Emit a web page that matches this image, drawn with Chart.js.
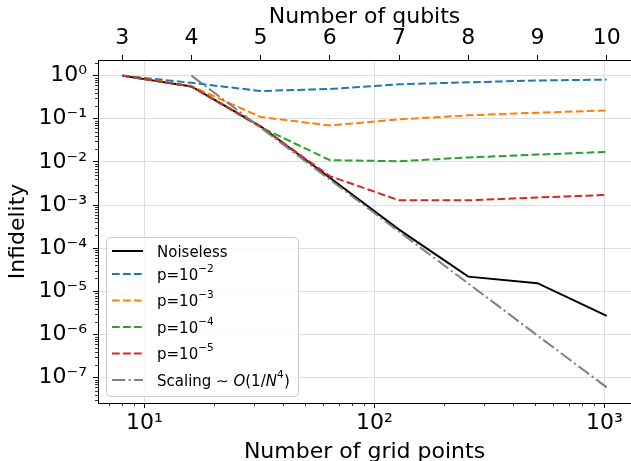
<!DOCTYPE html>
<html>
<head>
<meta charset="utf-8">
<script src="https://cdn.jsdelivr.net/npm/chart.js@4.4.1/dist/chart.umd.min.js"></script>
<style>
    html, body { margin: 0; padding: 0; background: #fff; }
    #wrap { width: 631px; height: 461px; position: relative; }
</style>
</head>
<body>
<div id="wrap"><canvas id="infidelity-chart"></canvas></div>
<script>
// Data
const gridPoints = [8, 16, 32, 64, 128, 256, 512, 1024];
const qubitLabels = ['3', '4', '5', '6', '7', '8', '9', '10'];
const noiseless = [1.0, 0.56, 0.067, 0.0043, 2.7e-4, 2.2e-5, 1.55e-5, 2.7e-6];
const noiseP2 = [1.0, 0.68, 0.44, 0.49, 0.63, 0.70, 0.77, 0.81];
const noiseP3 = [1.0, 0.57, 0.11, 0.070, 0.097, 0.12, 0.138, 0.156];
const noiseP4 = [1.0, 0.56, 0.064, 0.011, 0.0104, 0.0127, 0.0148, 0.0171];
const noiseP5 = [1.0, 0.56, 0.065, 0.0047, 0.00129, 0.00129, 0.0015, 0.00172];
const scalingPoints = [16, 32, 64, 128, 256, 512, 1024];
const scaling = [1.0, 0.0625, 0.0039, 2.44e-4, 1.53e-5, 9.5e-7, 6.0e-8];
const xMajorTicks = [10, 100, 1000];
const yMajorTicks = [1, 1e-1, 1e-2, 1e-3, 1e-4, 1e-5, 1e-6, 1e-7];

const legendLabels = [
    [{t: 'Noiseless'}],
    [{t: 'p=10'}, {t: '\u22122', sup: true}],
    [{t: 'p=10'}, {t: '\u22123', sup: true}],
    [{t: 'p=10'}, {t: '\u22124', sup: true}],
    [{t: 'p=10'}, {t: '\u22125', sup: true}],
    [{t: 'Scaling \u223C '}, {t: 'O', it: true}, {t: '(1/'}, {t: 'N', it: true}, {t: '4', sup: true}, {t: ')'}]
];

const FONT = '"DejaVu Sans", sans-serif';
Chart.defaults.color = '#000';
Chart.defaults.font.family = FONT;

const supMap = {'-': '\u207B', '0': '\u2070', '1': '\u00B9', '2': '\u00B2', '3': '\u00B3',
    '4': '\u2074', '5': '\u2075', '6': '\u2076', '7': '\u2077', '8': '\u2078', '9': '\u2079'};
const powLabel = (v) => {
    const e = Math.round(Math.log10(v));
    return '10' + String(e).split('').map(c => supMap[c]).join('');
};

const toPoints = (xs, ys) => xs.map((x, i) => ({x: x, y: ys[i]}));

const dashed = [7.7, 3.3];

const dataInfidelity = {
    datasets: [
        { label: 'Noiseless', data: toPoints(gridPoints, noiseless), borderColor: '#000000', borderWidth: 2, order: 6 },
        { label: 'p=10⁻²', data: toPoints(gridPoints, noiseP2), borderColor: '#1f77b4', borderWidth: 2, borderDash: dashed, order: 5 },
        { label: 'p=10⁻³', data: toPoints(gridPoints, noiseP3), borderColor: '#ff7f0e', borderWidth: 2, borderDash: dashed, order: 4 },
        { label: 'p=10⁻⁴', data: toPoints(gridPoints, noiseP4), borderColor: '#2ca02c', borderWidth: 2, borderDash: dashed, order: 3 },
        { label: 'p=10⁻⁵', data: toPoints(gridPoints, noiseP5), borderColor: '#d62728', borderWidth: 2, borderDash: dashed, order: 2 },
        { label: 'Scaling ~ O(1/N⁴)', data: toPoints(scalingPoints, scaling), borderColor: '#808080', borderWidth: 2, borderDash: [13.3, 3.3, 2.1, 3.3], order: 1 }
    ]
};

// small unlabeled ticks between the decades
const minorTicks = {
    id: 'minorTicks',
    afterDraw: (chart) => {
        const {ctx, chartArea, scales} = chart;
        ctx.save();
        ctx.strokeStyle = '#000';
        ctx.lineWidth = 0.8;
        ctx.beginPath();
        for (let e = -9; e <= 3; e++) {
            for (let m = 2; m <= 9; m++) {
                const v = m * Math.pow(10, e);
                if (v > scales.x.min && v < scales.x.max) {
                    const px = Math.round(scales.x.getPixelForValue(v)) + 0.5;
                    ctx.moveTo(px, chartArea.bottom);
                    ctx.lineTo(px, chartArea.bottom + 3);
                }
                if (v > scales.y.min && v < scales.y.max) {
                    const py = Math.round(scales.y.getPixelForValue(v)) + 0.5;
                    ctx.moveTo(chartArea.left, py);
                    ctx.lineTo(chartArea.left - 3, py);
                }
            }
        }
        ctx.stroke();
        ctx.restore();
    }
};

// legend box in the lower left of the plot, matplotlib style
const boxLegend = {
    id: 'boxLegend',
    afterDraw: (chart) => {
        const ctx = chart.ctx;
        ctx.save();
        ctx.fillStyle = 'rgba(255,255,255,0.8)';
        ctx.strokeStyle = '#cccccc';
        ctx.lineWidth = 1;
        ctx.beginPath();
        ctx.roundRect(106.5, 237.5, 192, 159, 4);
        ctx.fill();
        ctx.stroke();

        chart.data.datasets.forEach((ds, i) => {
            const y = 251 + (i > 0 ? 23 + (i - 1) * 26.5 : 0);
            ctx.strokeStyle = ds.borderColor;
            ctx.lineWidth = 2;
            ctx.setLineDash(ds.borderDash || []);
            ctx.beginPath();
            ctx.moveTo(112, y);
            ctx.lineTo(143, y);
            ctx.stroke();
            ctx.setLineDash([]);

            let x = 157;
            ctx.fillStyle = '#000';
            ctx.textBaseline = 'alphabetic';
            legendLabels[i].forEach(part => {
                const size = part.sup ? 10.5 : 15;
                ctx.font = (part.it ? 'italic ' : '') + size + 'px ' + FONT;
                ctx.fillText(part.t, x, part.sup ? y - 2.5 : y + 5.5);
                x += ctx.measureText(part.t).width + (part.sup ? 0.5 : 0);
            });
        });
        ctx.restore();
    }
};

const optionsInfidelity = {
    responsive: true,
    maintainAspectRatio: false,
    animation: false,
    layout: { padding: 0 },
    elements: {
        point: { radius: 0 },
        line: { tension: 0 }
    },
    scales: {
        x: {
            type: 'logarithmic',
            position: 'bottom',
            min: 6.28,
            max: 1306,
            bounds: 'data',
            afterBuildTicks: (scale) => { scale.ticks = xMajorTicks.map(v => ({value: v})); },
            afterFit: (scale) => { scale.height = 58; },
            ticks: {
                autoSkip: false,
                maxRotation: 0,
                padding: 2,
                font: { size: 22, lineHeight: 1.2 },
                callback: (value) => powLabel(value)
            },
            grid: { color: '#dedede', lineWidth: 1, tickLength: 5, tickColor: '#000' },
            border: { display: true, color: '#000', width: 1 },
            title: {
                display: true,
                text: 'Number of grid points',
                font: { size: 22, lineHeight: 0.8 },
                padding: { top: 0, bottom: 0 }
            }
        },
        xTop: {
            type: 'logarithmic',
            axis: 'x',
            position: 'top',
            min: 6.28,
            max: 1306,
            bounds: 'data',
            afterBuildTicks: (scale) => { scale.ticks = gridPoints.map(v => ({value: v})); },
            afterFit: (scale) => { scale.height = 60; },
            ticks: {
                autoSkip: false,
                maxRotation: 0,
                padding: 4,
                font: { size: 22, lineHeight: 1.2 },
                callback: (value) => qubitLabels[gridPoints.indexOf(value)]
            },
            grid: { drawOnChartArea: false, tickLength: 5, tickColor: '#000' },
            border: { display: true, color: '#000', width: 1 },
            title: {
                display: true,
                text: 'Number of qubits',
                font: { size: 22, lineHeight: 1.2 },
                padding: { top: 4, bottom: 0 }
            }
        },
        y: {
            type: 'logarithmic',
            position: 'left',
            min: 2.6e-8,
            max: 2.3,
            bounds: 'data',
            afterBuildTicks: (scale) => { scale.ticks = yMajorTicks.map(v => ({value: v})); },
            afterFit: (scale) => { scale.width = 98; },
            ticks: {
                autoSkip: false,
                padding: 6,
                font: { size: 22, lineHeight: 1.2 },
                callback: (value) => powLabel(value)
            },
            grid: { color: '#dedede', lineWidth: 1, tickLength: 5, tickColor: '#000' },
            border: { display: true, color: '#000', width: 1 },
            title: {
                display: true,
                text: 'Infidelity',
                font: { size: 22, lineHeight: 1.2 },
                padding: { top: 5, bottom: 0 }
            }
        }
    },
    plugins: {
        legend: { display: false },
        tooltip: { enabled: false }
    }
};

new Chart(document.querySelector('#infidelity-chart'), {
    type: 'line',
    data: dataInfidelity,
    options: optionsInfidelity,
    plugins: [minorTicks, boxLegend]
});
</script>
</body>
</html>
